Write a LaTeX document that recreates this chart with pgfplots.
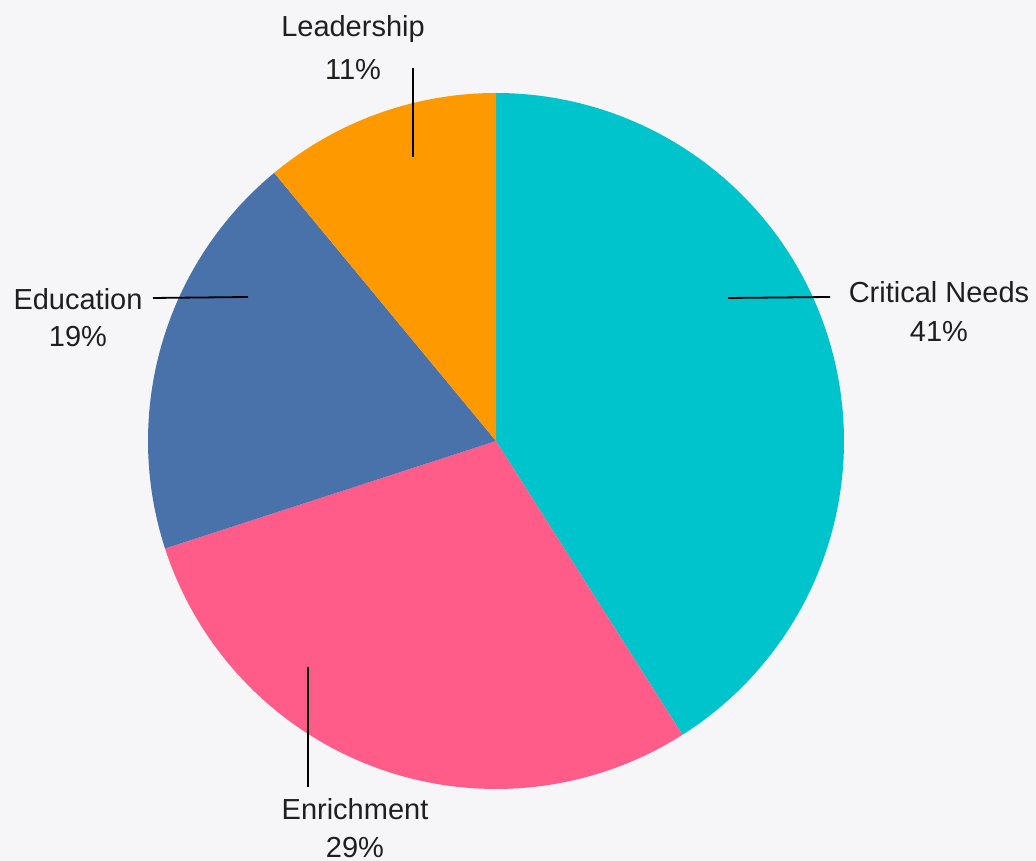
\documentclass[border=0pt]{standalone}
\usepackage{pgfplots}
\pgfplotsset{compat=1.18}
\usepackage{fontspec}
\setmainfont{Liberation Sans}
\definecolor{bgc}{HTML}{F6F5F8}
\definecolor{cteal}{HTML}{00C4CC}
\definecolor{cpink}{HTML}{FF5C8A}
\definecolor{cblue}{HTML}{4A72AA}
\definecolor{corange}{HTML}{FF9900}
% shares in percent
\def\vCrit{41}
\def\vEnr{29}
\def\vEdu{19}
\def\vLead{11}
\begin{document}
\begin{tikzpicture}
\begin{axis}[
  scale only axis, width=1036pt, height=861pt,
  xmin=0, xmax=1036, ymin=0, ymax=861,
  hide axis, clip=false,
]
\fill[bgc] (axis cs:0,0) rectangle (axis cs:1036,861);
\pgfmathsetmacro{\aA}{90}
\pgfmathsetmacro{\aB}{\aA-\vCrit*3.6}
\pgfmathsetmacro{\aC}{\aB-\vEnr*3.6}
\pgfmathsetmacro{\aD}{\aC-\vEdu*3.6}
\pgfmathsetmacro{\aE}{\aD-\vLead*3.6}
\addplot[fill=cteal, draw=none, domain=\aB:\aA, samples=150, variable=\t]
  ({496+348*cos(\t)},{420+348*sin(\t)}) -- (axis cs:496,420) -- cycle;
\addplot[fill=cpink, draw=none, domain=\aC:\aB, samples=120, variable=\t]
  ({496+348*cos(\t)},{420+348*sin(\t)}) -- (axis cs:496,420) -- cycle;
\addplot[fill=cblue, draw=none, domain=\aD:\aC, samples=90, variable=\t]
  ({496+348*cos(\t)},{420+348*sin(\t)}) -- (axis cs:496,420) -- cycle;
\addplot[fill=corange, draw=none, domain=\aE:\aD, samples=60, variable=\t]
  ({496+348*cos(\t)},{420+348*sin(\t)}) -- (axis cs:496,420) -- cycle;
% leader lines
\draw[line width=1.8pt] (axis cs:413,793) -- (axis cs:413,704);
\draw[line width=1.8pt] (axis cs:728,563) -- (axis cs:830,564);
\draw[line width=1.8pt] (axis cs:153,563) -- (axis cs:248,564);
\draw[line width=1.8pt] (axis cs:308,194) -- (axis cs:308,74);
% labels
\tikzset{lbl/.style={anchor=base, inner sep=0pt, font=\fontsize{29}{34}\selectfont, text=black!88}}
\node[lbl] at (axis cs:353,824) {Leadership};
\node[lbl] at (axis cs:353,781) {11\%};
\node[lbl] at (axis cs:939,558) {Critical Needs};
\node[lbl] at (axis cs:939,519) {41\%};
\node[lbl] at (axis cs:78,551) {Education};
\node[lbl] at (axis cs:78,514) {19\%};
\node[lbl] at (axis cs:355,41) {Enrichment};
\node[lbl] at (axis cs:355,3) {29\%};
\end{axis}
\end{tikzpicture}
\end{document}
